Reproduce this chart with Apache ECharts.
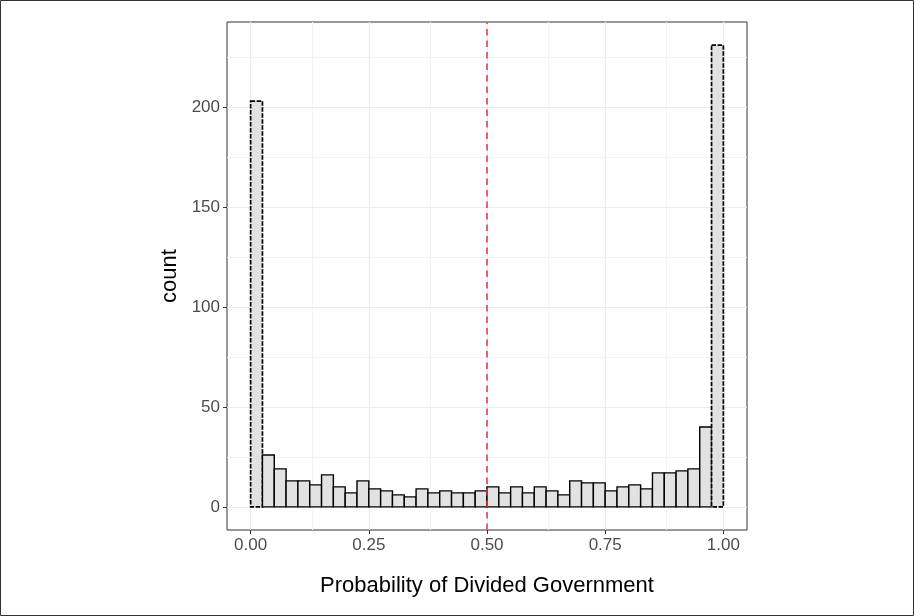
<!DOCTYPE html>
<html>
<head>
<meta charset="utf-8">
<script src="https://cdn.jsdelivr.net/npm/echarts@6/dist/echarts.min.js"></script>
<style>
html, body { margin: 0; padding: 0; background: #fff; }
#main { width: 914px; height: 616px; }
</style>
</head>
<body>
<div id="main"></div>
<script>
// histogram counts, 40 bins of width 0.025 from 0 to 1
var counts = [203, 26, 19, 13, 13, 11, 16, 10, 7, 13,
              9, 8, 6, 5, 9, 7, 8, 7, 7, 8,
              10, 7, 10, 7, 10, 8, 6, 13, 12, 12,
              8, 10, 11, 9, 17, 17, 18, 19, 40, 231];
var binStart = 0;
var binWidth = 0.025;
var xTicks = [0, 0.25, 0.5, 0.75, 1];
var xMinorTicks = [0.125, 0.375, 0.625, 0.875];
var yTicks = [0, 50, 100, 150, 200];
var yMinorTicks = [25, 75, 125, 175, 225];
var cutoff = 0.5;

var font = 'Liberation Sans, Arial, sans-serif';

var bins = [];
for (var i = 0; i < counts.length; i++) {
    bins.push([binStart + i * binWidth, binStart + (i + 1) * binWidth, counts[i]]);
}

var gridLines = [];
xMinorTicks.forEach(function (v) { gridLines.push({ xAxis: v, lineStyle: { color: '#f3f3f3', width: 1 } }); });
yMinorTicks.forEach(function (v) { gridLines.push({ yAxis: v, lineStyle: { color: '#f3f3f3', width: 1 } }); });
xTicks.forEach(function (v) { gridLines.push({ xAxis: v, lineStyle: { color: '#ebebeb', width: 1.2 } }); });
yTicks.forEach(function (v) { gridLines.push({ yAxis: v, lineStyle: { color: '#ebebeb', width: 1.2 } }); });

var option = {
    animation: false,
    backgroundColor: '#fff',
    textStyle: { fontFamily: font },
    graphic: [{
        type: 'rect',
        z: -10,
        shape: { x: 0.5, y: 0.5, width: 913, height: 615 },
        style: { fill: null, stroke: '#333', lineWidth: 1 }
    }],
    grid: {
        left: 227, top: 22, width: 520, height: 508,
        show: true, borderColor: '#333', borderWidth: 1, backgroundColor: '#fff'
    },
    xAxis: {
        type: 'value',
        min: -0.05, max: 1.05,
        name: 'Probability of Divided Government',
        nameLocation: 'middle',
        nameGap: 45,
        nameTextStyle: { fontSize: 22, color: '#000', fontFamily: font },
        axisLine: { show: false, onZero: false },
        axisTick: { show: true, customValues: xTicks, length: 4, lineStyle: { color: '#333', width: 1 } },
        axisLabel: {
            customValues: xTicks, margin: 7, fontSize: 17, color: '#4d4d4d', fontFamily: font,
            formatter: function (v) { return v.toFixed(2); }
        },
        splitLine: { show: false }
    },
    yAxis: {
        type: 'value',
        min: -11.55, max: 242.55,
        name: 'count',
        nameLocation: 'middle',
        nameRotate: 90,
        nameGap: 36,
        nameTextStyle: { fontSize: 22, color: '#000', fontFamily: font },
        axisLine: { show: false, onZero: false },
        axisTick: { show: true, customValues: yTicks, length: 4, lineStyle: { color: '#333', width: 1 } },
        axisLabel: {
            customValues: yTicks, margin: 7, fontSize: 17, color: '#4d4d4d', fontFamily: font,
            formatter: function (v) { return String(Math.round(v)); }
        },
        splitLine: { show: false }
    },
    series: [
        {
            type: 'line',
            data: [],
            silent: true,
            markLine: {
                silent: true, symbol: 'none', z: 0,
                label: { show: false },
                lineStyle: { type: 'solid' },
                emphasis: { disabled: true },
                data: gridLines
            }
        },
        {
            type: 'custom',
            z: 3,
            data: bins,
            encode: { x: [0, 1], y: 2 },
            renderItem: function (params, api) {
                var p0 = api.coord([api.value(0), api.value(2)]);
                var p1 = api.coord([api.value(1), 0]);
                var tall = api.value(2) > 100;
                return {
                    type: 'rect',
                    shape: { x: p0[0], y: p0[1], width: p1[0] - p0[0], height: p1[1] - p0[1] },
                    style: {
                        fill: '#e2e2e2', stroke: '#000', lineWidth: tall ? 1.7 : 1.4,
                        lineDash: tall ? [4.5, 1.5] : null
                    }
                };
            },
            markLine: {
                silent: true, symbol: 'none', z: 10,
                label: { show: false },
                lineStyle: { color: '#e8323a', width: 1.5, type: [6.5, 5] },
                emphasis: { disabled: true },
                data: [{ xAxis: cutoff }]
            }
        }
    ]
};

var chart = echarts.init(document.getElementById('main'));
chart.setOption(option);
</script>
</body>
</html>
